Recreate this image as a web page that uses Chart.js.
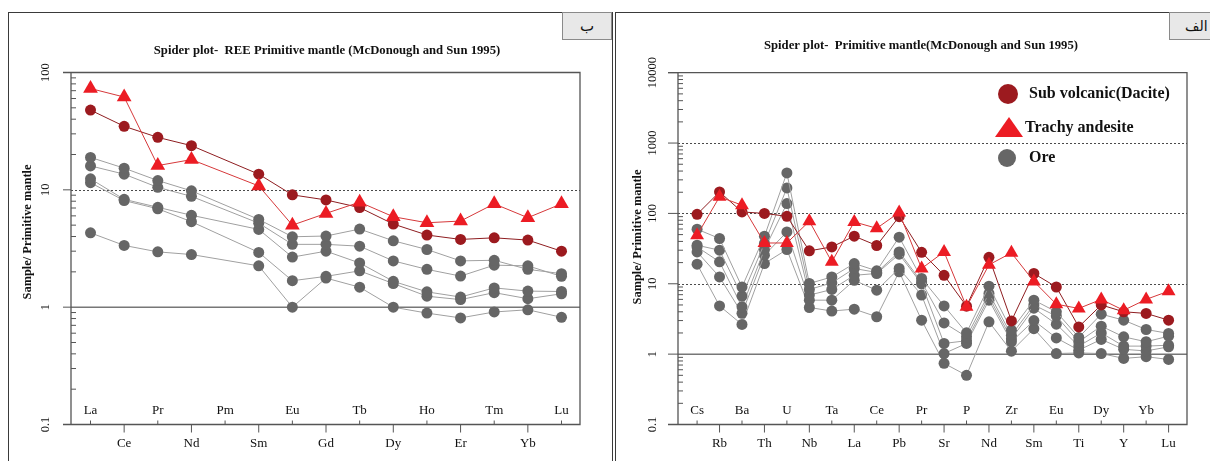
<!DOCTYPE html>
<html><head><meta charset="utf-8">
<script src="https://cdn.jsdelivr.net/npm/chart.js@4.4.0/dist/chart.umd.min.js"></script>
<style>
html,body{margin:0;padding:0;background:#fff;width:1210px;height:461px;overflow:hidden;position:relative;}
canvas{position:absolute;top:0;}
.frame{position:absolute;border:1.5px solid #3a3a3a;border-bottom:none;box-sizing:border-box;}
.tab{position:absolute;background:#e8e8e8;border:1px solid #8a8a8a;box-sizing:border-box;font-family:"DejaVu Sans",sans-serif;font-size:14px;color:#111;line-height:26px;}
</style></head><body>
<canvas id="c1" width="612" height="461" style="left:0"></canvas>
<canvas id="c2" width="596" height="461" style="left:614px"></canvas>
<div class="frame" style="left:8px;top:12px;width:605px;height:460px"></div>
<div class="frame" style="left:615px;top:12px;width:610px;height:460px"></div>
<div class="tab" style="left:562px;top:12px;width:50px;height:28px;text-align:center;font-size:15px">ب</div>
<div class="tab" style="left:1169px;top:12px;width:60px;height:28px;padding-left:15px">الف</div>
<script>
// ---------- Left panel: REE (McDonough & Sun 1995) ----------
const reeCats   = ['La','Ce','Pr','Nd','Pm','Sm','Eu','Gd','Tb','Dy','Ho','Er','Tm','Yb','Lu'];
const reeYTicks = ['0.1','1','10','100'];
const reeDacite = [47.8,34.8,28,23.8,null,13.6,9.06,8.2,7.06,5.11,4.12,3.78,3.9,3.73,3.0];
const reeTrachy = [73,61.8,16.1,18.1,null,10.8,5.0,6.3,7.85,5.9,5.24,5.42,7.6,5.79,7.6];
const reeOre1   = [18.9,15.3,12.0,9.8,null,5.6,3.98,4.04,4.63,3.68,3.1,2.48,2.51,2.1,1.93];
const reeOre2   = [16,13.6,10.5,8.8,null,5.2,3.43,3.43,3.31,2.48,2.1,1.84,2.28,2.25,1.83];
const reeOre3   = [12.4,8.3,7.1,6.07,null,4.6,2.67,3.0,2.38,1.66,1.35,1.22,1.46,1.37,1.36];
const reeOre4   = [11.5,8.1,6.9,5.35,null,2.93,1.68,1.83,2.04,1.59,1.24,1.16,1.33,1.18,1.30];
const reeOre5   = [4.3,3.36,2.96,2.81,null,2.25,1.0,1.77,1.48,1.0,0.89,0.81,0.91,0.95,0.82];

// ---------- Right panel: Primitive mantle ----------
const pmCats   = ['Cs','Rb','Ba','Th','U','Nb','Ta','La','Ce','Pb','Pr','Sr','P','Nd','Zr','Sm','Eu','Ti','Dy','Y','Yb','Lu'];
const pmYTicks = ['0.1','1','10','100','1000','10000'];
const pmDacite = [97,202,105,100,91,29.4,33.4,47.5,35,90,28,13.2,4.8,23.8,2.97,14,9.0,2.44,5.0,4.0,3.79,3.04];
const pmTrachy = [49,172,131,38,38,77.5,20.5,75.7,61.5,103,16.5,28.4,4.7,18.6,27.5,10.8,5.13,4.46,6.0,4.2,6.0,7.85];
const pmOre1   = [59.7,44,9.0,47.5,376,10.1,12.5,19.4,15.3,46,11.9,4.85,2.01,9.25,2.19,5.85,4.0,1.73,3.7,3.04,2.24,1.97];
const pmOre2   = [35.3,30,6.7,37.4,230,8.3,10.3,16.5,14.5,28.4,10.6,2.78,1.76,7.3,1.86,5.0,3.47,1.5,2.5,1.76,1.5,1.8];
const pmOre3   = [33.4,20.5,4.7,30.7,138,6.9,8.3,13.2,14,26.3,10,1.42,1.55,6.5,1.65,4.5,2.67,1.3,2.0,1.3,1.3,1.34];
const pmOre4   = [28.4,12.5,3.8,25.5,54.6,5.85,5.85,11.2,8.1,16.5,6.9,1.02,1.42,5.85,1.5,3.0,1.7,1.14,1.62,1.17,1.11,1.27];
const pmOre5   = [19,4.85,2.64,19.4,30.7,4.6,4.1,4.36,3.4,14.8,3.04,0.74,0.5,2.88,1.1,2.3,1.02,1.04,1.02,0.87,0.92,0.84];

const legendNames = ['Sub volcanic(Dacite)','Trachy andesite','Ore'];

const C_DARK='#9c1a1f', C_DARK_LINE='#8e1d20', C_TRI='#ec1c24', C_TRI_LINE='#d6383a', C_GREY='#666666', C_GREY_LINE='#a0a0a0';
const SERIF='"Liberation Serif","Times New Roman",serif';

function pts(arr){ return arr.map((v,i)=>({x:i,y:v})); }
function dsTri(arr,r){ return {data:pts(arr),borderColor:C_TRI_LINE,borderWidth:1,pointStyle:'triangle',pointRadius:r,pointBackgroundColor:C_TRI,pointBorderColor:C_TRI,pointBorderWidth:0}; }
function dsDark(arr,r){ return {data:pts(arr),borderColor:C_DARK_LINE,borderWidth:1,pointStyle:'circle',pointRadius:r,pointBackgroundColor:C_DARK,pointBorderColor:C_DARK,pointBorderWidth:0}; }
function dsOre(arr,r){ return {data:pts(arr),borderColor:C_GREY_LINE,borderWidth:1,pointStyle:'circle',pointRadius:r,pointBackgroundColor:C_GREY,pointBorderColor:C_GREY,pointBorderWidth:0}; }

function axesPlugin(cfg){
  return {
    id:'axes_'+cfg.id,
    beforeDatasetsDraw(chart){
      const {ctx, chartArea:a, scales:{x,y}} = chart;
      const ext=cfg.ext;
      ctx.save();
      ctx.strokeStyle='#4a4a4a'; ctx.lineWidth=1; ctx.setLineDash([2,2]);
      cfg.dotted.forEach(v=>{ const py=Math.round(y.getPixelForValue(v))+0.5; ctx.beginPath(); ctx.moveTo(a.left,py); ctx.lineTo(a.right,py); ctx.stroke(); });
      ctx.setLineDash([]);
      ctx.strokeStyle='#777'; ctx.lineWidth=1.5;
      let p1=y.getPixelForValue(1); ctx.beginPath(); ctx.moveTo(a.left,p1); ctx.lineTo(a.right,p1); ctx.stroke();
      ctx.strokeStyle='#555'; ctx.lineWidth=1.3;
      ctx.beginPath();
      ctx.moveTo(a.left-ext,a.top); ctx.lineTo(a.right,a.top); ctx.lineTo(a.right,a.bottom); ctx.lineTo(a.left-ext,a.bottom);
      ctx.moveTo(a.left,a.top); ctx.lineTo(a.left,a.bottom);
      ctx.stroke();
      ctx.lineWidth=1;
      const dMin=Math.round(Math.log10(y.min)), dMax=Math.round(Math.log10(y.max));
      for(let d=dMin; d<=dMax; d++){
        const py=y.getPixelForValue(Math.pow(10,d));
        ctx.beginPath(); ctx.moveTo(a.left-ext,py); ctx.lineTo(a.left,py); ctx.stroke();
        if(d<dMax){
          for(let k=2;k<=9;k++){
            const pm=y.getPixelForValue(k*Math.pow(10,d));
            ctx.beginPath(); ctx.moveTo(a.left,pm); ctx.lineTo(a.left+5,pm); ctx.stroke();
          }
        }
      }
      ctx.restore();
    },
    afterDraw(chart){
      const {ctx, chartArea:a, scales:{x,y}} = chart;
      ctx.save();
      ctx.fillStyle='#111'; ctx.strokeStyle='#555'; ctx.lineWidth=1;
      ctx.font='13px '+SERIF; ctx.textAlign='center'; ctx.textBaseline='middle';
      cfg.cats.forEach((c,i)=>{
        const px=x.getPixelForValue(i);
        ctx.beginPath();
        if(i%2===0){ ctx.moveTo(px,a.bottom); ctx.lineTo(px,a.bottom-4); ctx.stroke(); ctx.fillText(c,px,a.bottom-14); }
        else { ctx.moveTo(px,a.bottom); ctx.lineTo(px,a.bottom+8); ctx.stroke(); ctx.fillText(c,px,a.bottom+19); }
      });
      ctx.font='12.5px '+SERIF;
      const dMin=Math.round(Math.log10(y.min));
      cfg.yTicks.forEach((t,j)=>{
        const py=y.getPixelForValue(Math.pow(10,dMin+j));
        ctx.save(); ctx.translate(cfg.yLabX,py); ctx.rotate(-Math.PI/2); ctx.fillText(t,0,0); ctx.restore();
      });
      ctx.font='bold 12.4px '+SERIF;
      ctx.save(); ctx.translate(cfg.yTitleX,cfg.yTitleY); ctx.rotate(-Math.PI/2); ctx.fillText('Sample/ Primitive mantle',0,0); ctx.restore();
      ctx.font='bold 12.7px '+SERIF;
      ctx.fillText(cfg.title,cfg.titleX,cfg.titleY);
      if(cfg.legend){
        const L=cfg.legend;
        ctx.font='bold 16px '+SERIF; ctx.textAlign='left';
        ctx.fillStyle=C_DARK; ctx.beginPath(); ctx.arc(L.x,L.y0,10,0,Math.PI*2); ctx.fill();
        ctx.fillStyle=C_TRI; ctx.beginPath(); ctx.moveTo(L.x+1,L.y1-10); ctx.lineTo(L.x+15,L.y1+10); ctx.lineTo(L.x-13,L.y1+10); ctx.closePath(); ctx.fill();
        ctx.fillStyle=C_GREY; ctx.beginPath(); ctx.arc(L.x-1,L.y2,9,0,Math.PI*2); ctx.fill();
        ctx.fillStyle='#111';
        ctx.fillText(legendNames[0],L.x+21,L.y0);
        ctx.fillText(legendNames[1],L.x+17,L.y1+1);
        ctx.fillText(legendNames[2],L.x+21,L.y2);
      }
      ctx.restore();
    }
  };
}

function makeChart(id,cats,series,yMin,yMax,xMin,xMax,pad,cfg,rC,rT){
  const datasets=[dsTri(series[0],rT),dsDark(series[1],rC)].concat(series.slice(2).map(s=>dsOre(s,rC)));
  return new Chart(document.getElementById(id),{
    type:'line',
    data:{datasets},
    options:{
      responsive:false,animation:false,devicePixelRatio:1,spanGaps:true,
      layout:{padding:pad},
      plugins:{legend:{display:false},tooltip:{enabled:false}},
      elements:{line:{tension:0}},
      scales:{
        x:{type:'linear',min:xMin,max:xMax,display:false},
        y:{type:'logarithmic',min:yMin,max:yMax,display:false}
      }
    },
    plugins:[axesPlugin(cfg)]
  });
}

makeChart('c1',reeCats,[reeTrachy,reeDacite,reeOre1,reeOre2,reeOre3,reeOre4,reeOre5],0.1,100,-0.58,14.55,
  {left:71,right:32,top:72.5,bottom:36.5},
  {id:'ree',ext:8,dotted:[10],cats:reeCats,yTicks:reeYTicks,yLabX:46,yTitleX:28,yTitleY:232,
   title:'Spider plot-  REE Primitive mantle (McDonough and Sun 1995)',titleX:327,titleY:51},5.5,8.5);

makeChart('c2',pmCats,[pmTrachy,pmDacite,pmOre1,pmOre2,pmOre3,pmOre4,pmOre5],0.1,10000,-0.85,21.82,
  {left:64,right:23,top:72.7,bottom:36.5},
  {id:'pm',ext:10,dotted:[10,100,1000],cats:pmCats,yTicks:pmYTicks,yLabX:39,yTitleX:24,yTitleY:237,
   title:'Spider plot-  Primitive mantle(McDonough and Sun 1995)',titleX:307,titleY:46,
   legend:{x:394,y0:94,y1:127,y2:158}},5.5,8);
</script>
</body></html>
